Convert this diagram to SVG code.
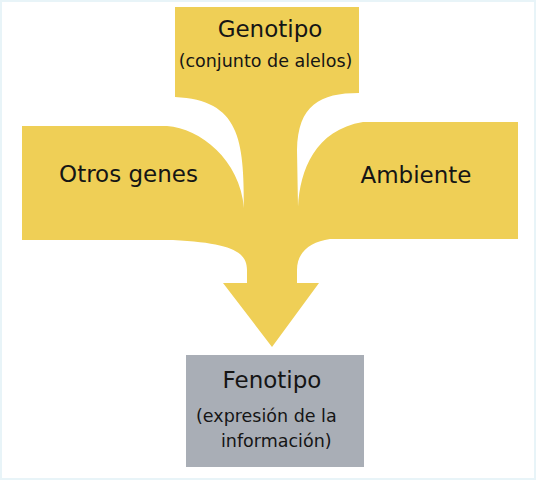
<svg xmlns="http://www.w3.org/2000/svg" width="536" height="480" viewBox="0 0 536 480">
  <style>
    .big { font-family: "DejaVu Sans", "Liberation Sans", sans-serif; font-size: 23px; fill: #151515; }
    .small { font-family: "DejaVu Sans", "Liberation Sans", sans-serif; font-size: 17.5px; fill: #151515; }
    .mid { text-anchor: middle; }
    .flow { fill: #efcf56; }
    .result { fill: #a9aeb6; }
  </style>
  <rect x="1" y="1" width="534" height="478" fill="#ffffff" stroke="#e8f4f8" stroke-width="2"/>
  <g id="connectors">
    <path class="flow" d="M175,7 H359 V93 C320,93 298,105 297,150 L298,207 C300,170 315,130 363,122 H518 V239 H330 C310,242 297,252 297,270 V283 H319 L272,347 L223,283 H247 V270 C247,252 232,243 173,240 H22 V126 H167 C200,128 240,160 244,208 C244,140 240,100 175,97 Z"/>
  </g>
  <g id="genotipo">
    <text class="big mid" x="270" y="37">Genotipo</text>
    <text class="small mid" x="265.5" y="67">(conjunto de alelos)</text>
  </g>
  <g id="otros-genes">
    <text class="big mid" x="128.5" y="182">Otros genes</text>
  </g>
  <g id="ambiente">
    <text class="big mid" x="416" y="183">Ambiente</text>
  </g>
  <g id="fenotipo">
    <rect class="result" x="186" y="355" width="178" height="112"/>
    <text class="big mid" x="272" y="388">Fenotipo</text>
    <text class="small" x="196" y="422">(expresión de la</text>
    <text class="small" x="221" y="447">información)</text>
  </g>
</svg>
